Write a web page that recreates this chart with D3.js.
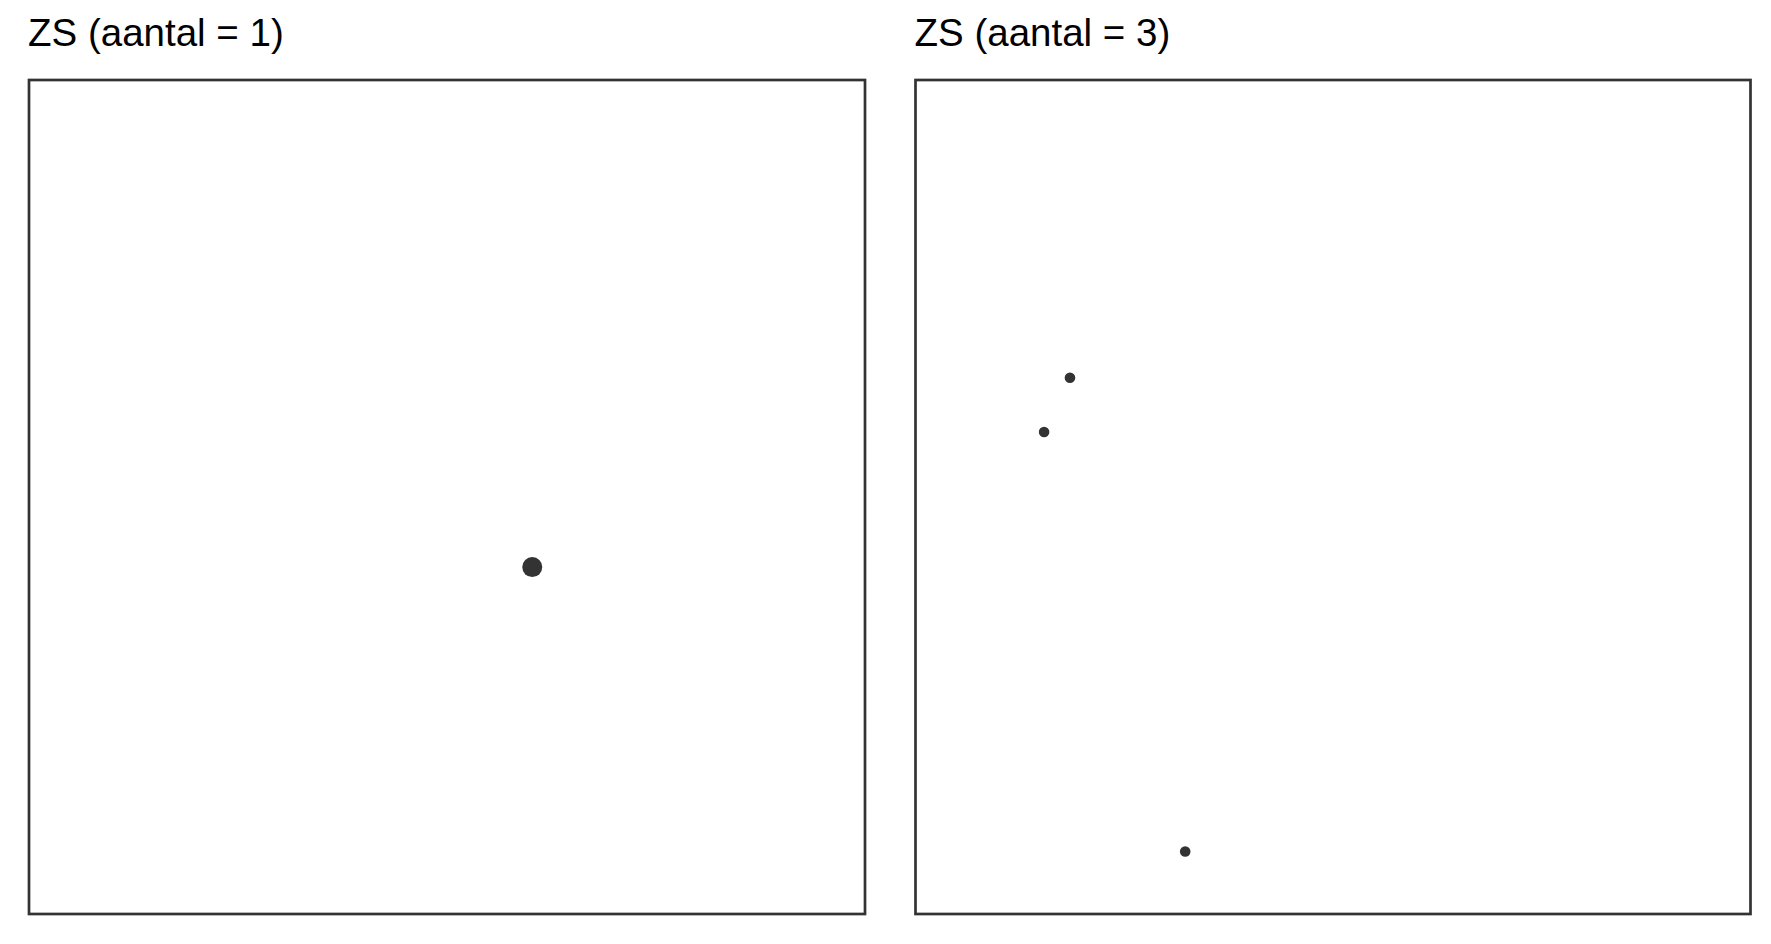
<!DOCTYPE html>
<html>
<head>
<meta charset="utf-8">
<script src="https://cdn.jsdelivr.net/npm/d3@7"></script>
<style>
    html, body { margin: 0; padding: 0; background: #fff; }
    svg { display: block; }
</style>
</head>
<body>
<div class="chart"></div>
<script>
// panel titles and point data (relative position in each panel, 0..1)
var panelTitles = ['ZS (aantal = 1)', 'ZS (aantal = 3)'];
var panelCounts = [1, 3];
var leftX = [0.602];
var leftY = [0.416];
var rightX = [0.185, 0.154, 0.323];
var rightY = [0.643, 0.578, 0.075];

(function () {
    var width = 1771, height = 944;

    var svg = d3.select('.chart').append('svg')
        .attr('width', width)
        .attr('height', height);

    var panels = [
        {title: panelTitles[0], count: panelCounts[0], xs: leftX, ys: leftY, x0: 29, x1: 865},
        {title: panelTitles[1], count: panelCounts[1], xs: rightX, ys: rightY, x0: 915.5, x1: 1750.5}
    ];

    var panelTop = 80, panelBottom = 914;

    // single point gets a bigger dot, like the reference
    var radius = d3.scaleLinear().domain([1, 3]).range([10, 5.3]);

    panels.forEach(function (p) {
        var g = svg.append('g');

        var x = d3.scaleLinear().domain([0, 1]).range([p.x0, p.x1]);
        var y = d3.scaleLinear().domain([0, 1]).range([panelBottom, panelTop]);

        g.append('text')
            .attr('x', p.x0 - 1)
            .attr('y', 46)
            .style('font-family', '"Liberation Sans", Arial, sans-serif')
            .style('font-size', '38.5px')
            .style('fill', '#000')
            .text(p.title);

        g.append('rect')
            .attr('x', p.x0)
            .attr('y', panelTop)
            .attr('width', p.x1 - p.x0)
            .attr('height', panelBottom - panelTop)
            .attr('fill', 'none')
            .attr('stroke', '#333')
            .attr('stroke-width', 2.7);

        var pts = d3.zip(p.xs, p.ys);
        g.selectAll('circle')
            .data(pts)
            .enter().append('circle')
            .attr('cx', function (d) { return x(d[0]); })
            .attr('cy', function (d) { return y(d[1]); })
            .attr('r', radius(p.count))
            .attr('fill', '#333');
    });
})();
</script>
</body>
</html>
